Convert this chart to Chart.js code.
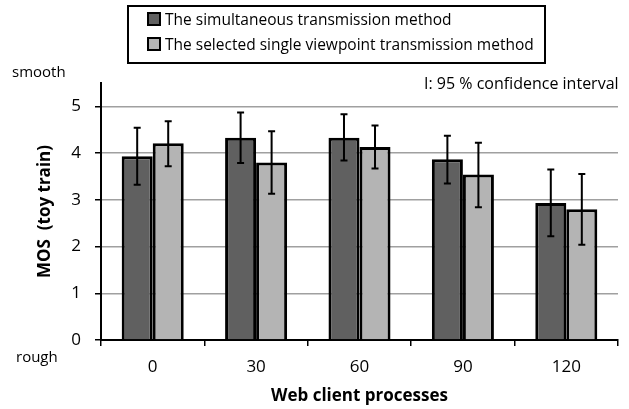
<!DOCTYPE html>
<html>
<head>
<meta charset="utf-8">
<script src="https://cdn.jsdelivr.net/npm/chart.js@4.4.1/dist/chart.umd.min.js"></script>
<style>
  body { margin: 0; background: #fff; }
  #wrap { position: relative; width: 629px; height: 409px; font-family: "Open Sans", sans-serif; color: #000; }
  #legend { position: absolute; left: 127px; top: 5px; width: 415px; height: 55px; border: 2px solid #000; font-size: 15.5px; }
  .legend-item { position: absolute; left: 18px; height: 22px; line-height: 22px; white-space: nowrap; }
  .legend-box { display: inline-block; width: 10px; height: 10px; border: 2px solid #000; vertical-align: -1px; margin-right: 4px; }
  .note { position: absolute; font-size: 15px; white-space: nowrap; line-height: 1; }
</style>
</head>
<body>
<div id="wrap">
  <canvas id="chart" width="629" height="409"></canvas>
  <div id="legend"></div>
  <div class="note" style="left:12px; top:64px;">smooth</div>
  <div class="note" style="left:16px; top:349px;">rough</div>
  <div class="note" style="left:424px; top:75px; font-size:16px;">I: 95 % confidence interval</div>
</div>
<script>
const categories = ['0', '30', '60', '90', '120'];
const seriesNames = ['The simultaneous transmission method', 'The selected single viewpoint transmission method'];
const seriesColors = ['#606060', '#b4b4b4'];

// MOS values and 95% confidence interval bounds
const simultaneous = [3.93, 4.33, 4.33, 3.87, 2.93];
const simultaneousHigh = [4.54, 4.87, 4.83, 4.37, 3.65];
const simultaneousLow = [3.32, 3.79, 3.84, 3.35, 2.22];

const selected = [4.21, 3.80, 4.13, 3.54, 2.80];
const selectedHigh = [4.68, 4.47, 4.59, 4.22, 3.55];
const selectedLow = [3.72, 3.13, 3.67, 2.84, 2.04];

const yTicks = [0, 1, 2, 3, 4, 5];

const errorBars = [
    { high: simultaneousHigh, low: simultaneousLow },
    { high: selectedHigh, low: selectedLow }
];

const errorBarPlugin = {
    id: 'errorBars',
    afterDatasetsDraw(chart) {
        const ctx = chart.ctx;
        const yScale = chart.scales.y;
        ctx.save();
        ctx.strokeStyle = '#000';
        ctx.lineWidth = 2;
        errorBars.forEach((eb, i) => {
            const meta = chart.getDatasetMeta(i);
            meta.data.forEach((bar, j) => {
                const x = bar.x;
                const top = yScale.getPixelForValue(eb.high[j]);
                const bot = yScale.getPixelForValue(eb.low[j]);
                ctx.beginPath();
                ctx.moveTo(x, top); ctx.lineTo(x, bot);
                ctx.moveTo(x - 3.5, top); ctx.lineTo(x + 3.5, top);
                ctx.moveTo(x - 3.5, bot); ctx.lineTo(x + 3.5, bot);
                ctx.stroke();
            });
        });
        ctx.restore();
    }
};

// html legend
const legendEl = document.getElementById('legend');
seriesNames.forEach((name, i) => {
    const item = document.createElement('div');
    item.className = 'legend-item';
    item.style.top = (i === 0 ? 1 : 26) + 'px';
    item.innerHTML = `<span class="legend-box" style="background:${seriesColors[i]}"></span>${name}`;
    legendEl.appendChild(item);
});

new Chart(document.getElementById('chart'), {
    type: 'bar',
    data: {
        labels: categories,
        datasets: [
            { label: seriesNames[0], data: simultaneous, backgroundColor: seriesColors[0], borderColor: '#000', borderWidth: 3 },
            { label: seriesNames[1], data: selected, backgroundColor: seriesColors[1], borderColor: '#000', borderWidth: 3 }
        ]
    },
    options: {
        responsive: false,
        animation: false,
        layout: { padding: { top: 83, right: 11, left: 0, bottom: 0 } },
        datasets: { bar: { categoryPercentage: 0.6, barPercentage: 1.0 } },
        plugins: { legend: { display: false }, tooltip: { enabled: false } },
        scales: {
            x: {
                grid: { offset: true, drawOnChartArea: false, drawTicks: true, tickLength: 6, color: '#000', lineWidth: 1.5 },
                border: { color: '#000', width: 2 },
                ticks: { color: '#000', font: { family: 'Open Sans', size: 17 }, padding: 11 },
                title: { display: true, text: 'Web client processes', color: '#000', font: { family: 'Open Sans', size: 17, weight: 'bold' }, padding: { top: 0, bottom: 3 } },
                afterFit(scale) { scale.height = 69; }
            },
            y: {
                min: 0,
                max: 5.5,
                grid: { color: '#a0a0a0', lineWidth: 1.5, tickLength: 6, tickColor: '#000', tickWidth: 1.5 },
                border: { color: '#000', width: 2 },
                afterBuildTicks(scale) { scale.ticks = yTicks.map(v => ({ value: v })); },
                ticks: { color: '#000', font: { family: 'Open Sans', size: 17 }, padding: 14 },
                title: { display: true, text: 'MOS  (toy train)', color: '#000', font: { family: 'Open Sans', size: 17, weight: 'bold' }, padding: { top: 35, bottom: 0 } },
                afterFit(scale) { scale.width = 101; }
            }
        }
    },
    plugins: [errorBarPlugin]
});
</script>
</body>
</html>
